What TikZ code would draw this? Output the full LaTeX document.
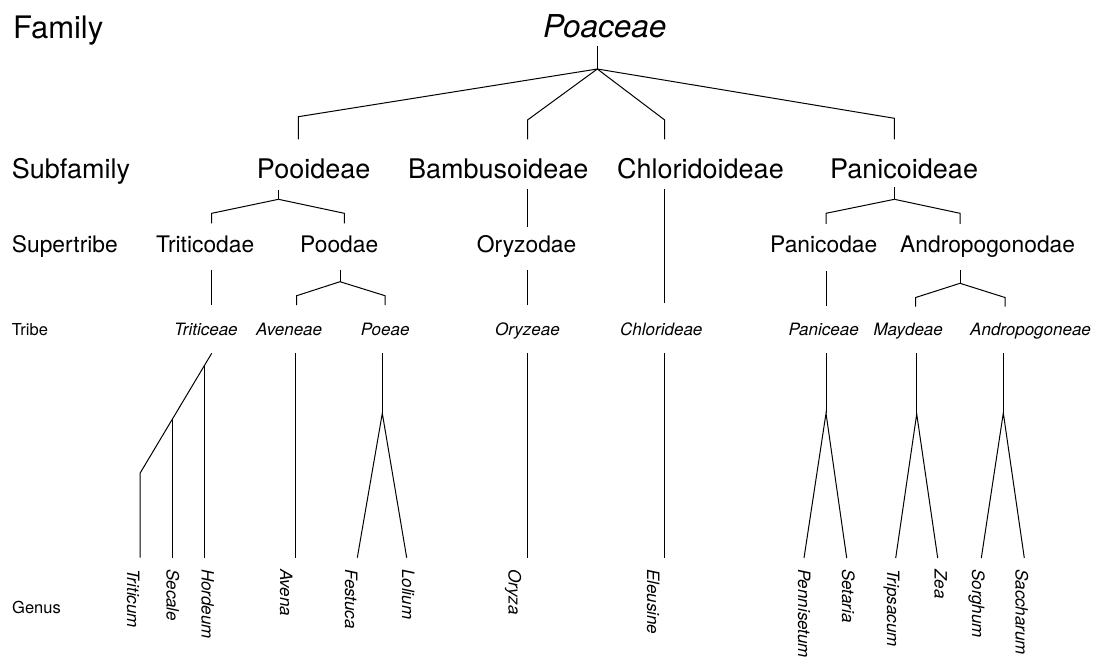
\documentclass[tikz,border=0pt]{standalone}
\usepackage{fontspec}
\setmainfont{TeX Gyre Heros}
\begin{document}
\begin{tikzpicture}[x=1pt,y=-1pt,
  lbl/.style={inner sep=0pt, anchor=base west},
  fam/.style={lbl, font=\fontsize{31}{31}\selectfont},
  famit/.style={lbl, font=\fontsize{31.5}{31.5}\selectfont\itshape},
  sub/.style={lbl, font=\fontsize{27}{27}\selectfont},
  sup/.style={lbl, font=\fontsize{22.8}{22.8}\selectfont},
  rowlbl/.style={lbl, font=\fontsize{16.5}{16.5}\selectfont},
  tri/.style={lbl, font=\fontsize{17}{17}\selectfont\itshape},
  gen/.style={lbl, rotate=-90, font=\fontsize{17}{17}\selectfont\itshape},
  edge/.style={draw=black, line width=1pt, line join=miter}]
\useasboundingbox (0,0) rectangle (1099,664);

% ---- row labels ----
\node[fam] (lFamily) at (13,38.3) {Family};
\node[sub] (lSub) at (11.7,178.3) {Subfamily};
\node[sup] (lSup) at (11.7,252) {Supertribe};
\node[rowlbl] (lTribe) at (11.7,335) {Tribe};
\node[rowlbl] (lGenus) at (12,613) {Genus};

% ---- texts ----
\node[famit] (Poaceae) at (543,37) {Poaceae};
\node[sub] (Pooideae) at (256.7,178.3) {Pooideae};
\node[sub] (Bambusoideae) at (408,178.3) {Bambusoideae};
\node[sub] (Chloridoideae) at (617,178.3) {Chloridoideae};
\node[sub] (Panicoideae) at (830,178.3) {Panicoideae};

\node[sup] (Triticodae) at (156,252.3) {Triticodae};
\node[sup] (Poodae) at (300,252.3) {Poodae};
\node[sup] (Oryzodae) at (476.7,252.3) {Oryzodae};
\node[sup] (Panicodae) at (770,252.3) {Panicodae};
\node[sup] (Andropogonodae) at (900,252.3) {Andropogonodae};

\node[tri] (Triticeae) at (174,335) {Triticeae};
\node[tri] (Aveneae) at (256,335) {Aveneae};
\node[tri] (Poeae) at (360.7,335) {Poeae};
\node[tri] (Oryzeae) at (495,335) {Oryzeae};
\node[tri] (Chlorideae) at (620,335) {Chlorideae};
\node[tri] (Paniceae) at (788.3,335) {Paniceae};
\node[tri] (Maydeae) at (873.3,335) {Maydeae};
\node[tri] (Andropogoneae) at (970,335) {Andropogoneae};

\node[gen] (Triticum) at (127,569) {Triticum};
\node[gen] (Secale) at (166.5,569) {Secale};
\node[gen] (Hordeum) at (201.5,569) {Hordeum};
\node[gen] (Avena) at (280,569) {Avena};
\node[gen] (Festuca) at (345,569) {Festuca};
\node[gen] (Lolium) at (402,569) {Lolium};
\node[gen] (Oryza) at (508.6,569) {Oryza};
\node[gen] (Eleusine) at (647,569) {Eleusine};
\node[gen] (Pennisetum) at (798,569) {Pennisetum};
\node[gen] (Setaria) at (842,569) {Setaria};
\node[gen] (Tripsacum) at (887,569) {Tripsacum};
\node[gen] (Zea) at (934.7,569) {Zea};
\node[gen] (Sorghum) at (972,569) {Sorghum};
\node[gen] (Saccharum) at (1015.7,569) {Saccharum};

% ---- family level ----
\coordinate (rT) at (597.3,46);
\coordinate (rJ) at (597.3,69);
\coordinate (aC) at (298.3,116.7); \coordinate (aE) at (298.3,139.3);
\coordinate (bC) at (527.5,120);   \coordinate (bE) at (527.5,139.3);
\coordinate (cC) at (664.7,120);   \coordinate (cE) at (664.7,139.3);
\coordinate (dC) at (894.4,118.3); \coordinate (dE) at (894.4,139.3);
\draw[edge] (rT) -- (rJ);
\draw[edge] (rJ) -- (aC) -- (aE);
\draw[edge] (rJ) -- (bC) -- (bE);
\draw[edge] (rJ) -- (cC) -- (cE);
\draw[edge] (rJ) -- (dC) -- (dE);

% ---- subfamily level ----
\coordinate (pT) at (278.5,190); \coordinate (pJ) at (278.5,199.3);
\coordinate (pLC) at (211.7,213.3); \coordinate (pLE) at (211.7,223.3);
\coordinate (pRC) at (344.3,213.3); \coordinate (pRE) at (344.3,223.3);
\draw[edge] (pT) -- (pJ);
\draw[edge] (pJ) -- (pLC) -- (pLE);
\draw[edge] (pJ) -- (pRC) -- (pRE);

\coordinate (bT) at (527.5,189); \coordinate (bB) at (527.5,227);
\draw[edge] (bT) -- (bB);
\coordinate (cT) at (664.7,189); \coordinate (cB) at (664.7,303);
\draw[edge] (cT) -- (cB);

\coordinate (nT) at (894.4,187); \coordinate (nJ) at (894.4,199.3);
\coordinate (nLC) at (826,213.3); \coordinate (nLE) at (826,223.8);
\coordinate (nRC) at (960,213.3); \coordinate (nRE) at (960,223.8);
\draw[edge] (nT) -- (nJ);
\draw[edge] (nJ) -- (nLC) -- (nLE);
\draw[edge] (nJ) -- (nRC) -- (nRE);

% ---- supertribe level ----
\coordinate (tcT) at (211.7,270); \coordinate (tcB) at (211.7,305);
\draw[edge] (tcT) -- (tcB);
\coordinate (poT) at (340,270); \coordinate (poJ) at (340,281.7);
\coordinate (poLC) at (296.7,295.7); \coordinate (poLE) at (296.7,305);
\coordinate (poRC) at (385,295.7); \coordinate (poRE) at (385,305);
\draw[edge] (poT) -- (poJ);
\draw[edge] (poJ) -- (poLC) -- (poLE);
\draw[edge] (poJ) -- (poRC) -- (poRE);
\coordinate (oyT) at (527.5,270); \coordinate (oyB) at (527.5,305);
\draw[edge] (oyT) -- (oyB);
\coordinate (pcT) at (826,271); \coordinate (pcB) at (826,306);
\draw[edge] (pcT) -- (pcB);
\coordinate (adT) at (960,270); \coordinate (adJ) at (960,283.3);
\coordinate (adLC) at (915.7,297.5); \coordinate (adLE) at (915.7,306.5);
\coordinate (adRC) at (1005,297.5); \coordinate (adRE) at (1005,306.5);
\draw[edge] (adT) -- (adJ);
\draw[edge] (adJ) -- (adLC) -- (adLE);
\draw[edge] (adJ) -- (adRC) -- (adRE);

% ---- tribe level ----
\coordinate (ttT) at (211.7,353.3);
\coordinate (ttK) at (140,473.3);   \coordinate (gTriticum) at (140,557.7);
\coordinate (ttH) at (204.3,365.7); \coordinate (gHordeum) at (204.3,557.7);
\coordinate (ttS) at (172.7,418.6); \coordinate (gSecale) at (172.7,557.7);
\draw[edge] (ttT) -- (ttK) -- (gTriticum);
\draw[edge] (ttH) -- (gHordeum);
\draw[edge] (ttS) -- (gSecale);

\coordinate (avT) at (295,353.3); \coordinate (gAvena) at (295,557.7);
\draw[edge] (avT) -- (gAvena);

\coordinate (peT) at (382.3,353.3); \coordinate (peJ) at (382.3,413.3);
\coordinate (gFestuca) at (357.3,557.7); \coordinate (gLolium) at (406.7,557.7);
\draw[edge] (peT) -- (peJ);
\draw[edge] (gFestuca) -- (peJ) -- (gLolium);

\coordinate (ozT) at (527.5,353); \coordinate (gOryza) at (527.5,557.7);
\draw[edge] (ozT) -- (gOryza);
\coordinate (chT) at (664.7,353); \coordinate (gEleusine) at (664.7,557.7);
\draw[edge] (chT) -- (gEleusine);

\coordinate (paT) at (826,353); \coordinate (paJ) at (826,413.3);
\coordinate (gPennisetum) at (804,558); \coordinate (gSetaria) at (846.7,558);
\draw[edge] (paT) -- (paJ);
\draw[edge] (gPennisetum) -- (paJ) -- (gSetaria);

\coordinate (mdT) at (916.7,353); \coordinate (mdJ) at (916.7,414);
\coordinate (gTripsacum) at (895.7,558); \coordinate (gZea) at (937.7,558);
\draw[edge] (mdT) -- (mdJ);
\draw[edge] (gTripsacum) -- (mdJ) -- (gZea);

\coordinate (anT) at (1003.3,353); \coordinate (anJ) at (1003.3,413);
\coordinate (gSorghum) at (981.3,558); \coordinate (gSaccharum) at (1024.3,558);
\draw[edge] (anT) -- (anJ);
\draw[edge] (gSorghum) -- (anJ) -- (gSaccharum);
\end{tikzpicture}
\end{document}
